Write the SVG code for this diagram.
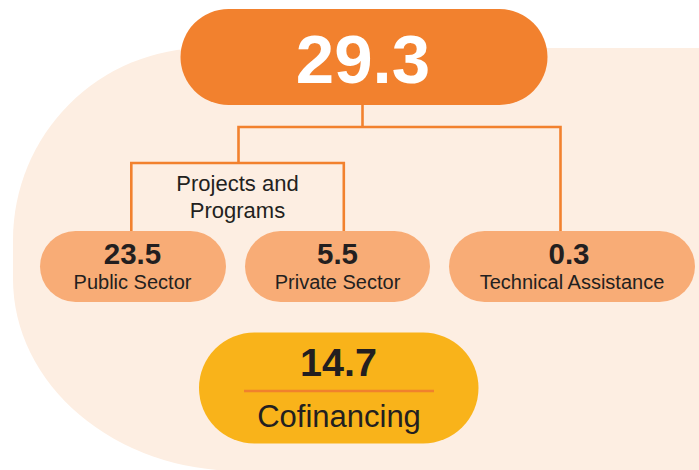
<svg xmlns="http://www.w3.org/2000/svg" width="699" height="470" viewBox="0 0 699 470">
<style>
.num{font-family:"Liberation Sans",Arial,sans-serif;font-weight:bold;fill:#231F20;text-anchor:middle}
.lbl{font-family:"Liberation Sans",Arial,sans-serif;fill:#231F20;text-anchor:middle}
.sub{fill:#F8AC76}
.conn{fill:none;stroke:#F2812E;stroke-width:2.6}
</style>
<rect x="0" y="0" width="699" height="470" fill="#FFFFFF"/>
<path d="M 699 48 H 205 A 192 192 0 0 0 13 240 V 279 A 227 192 0 0 0 240 471 H 699 Z" fill="#FDEEE2"/>
<g id="connectors">
<polyline class="conn" points="362.5,105 362.5,127"/>
<polyline class="conn" points="238.5,163 238.5,127 560.5,127 560.5,232"/>
<polyline class="conn" points="131.3,232 131.3,163 343.8,163 343.8,232"/>
</g>
<g id="total">
<rect x="180.5" y="9" width="367" height="96" rx="48" ry="48" fill="#F2812E"/>
<text x="363" y="83" class="num" style="fill:#FFFFFF;font-size:69px">29.3</text>
</g>
<g id="projects-label">
<text x="237.5" y="190.7" class="lbl" style="font-size:22px">Projects and</text>
<text x="237.5" y="217.7" class="lbl" style="font-size:22px">Programs</text>
</g>
<g id="public">
<rect class="sub" x="40" y="231" width="186" height="71" rx="35.5"/>
<text x="132.5" y="264" class="num" style="font-size:29.5px">23.5</text>
<text x="132.5" y="289.3" class="lbl" style="font-size:20px">Public Sector</text>
</g>
<g id="private">
<rect class="sub" x="245" y="231" width="185" height="71" rx="35.5"/>
<text x="337.5" y="264" class="num" style="font-size:29.5px">5.5</text>
<text x="337.5" y="289.3" class="lbl" style="font-size:20px">Private Sector</text>
</g>
<g id="technical">
<rect class="sub" x="449" y="231" width="246" height="71" rx="35.5"/>
<text x="569" y="264" class="num" style="font-size:29.5px">0.3</text>
<text x="572" y="289.3" class="lbl" style="font-size:20px">Technical Assistance</text>
</g>
<g id="cofinancing">
<rect x="199" y="332.5" width="279.5" height="111" rx="55.5" fill="#F9B31A"/>
<text x="338.5" y="375.7" class="num" style="font-size:39.5px">14.7</text>
<line x1="244" y1="391" x2="434" y2="391" stroke="#F0812D" stroke-width="2.6"/>
<text x="339" y="426.7" class="lbl" style="font-size:31px">Cofinancing</text>
</g>
</svg>
